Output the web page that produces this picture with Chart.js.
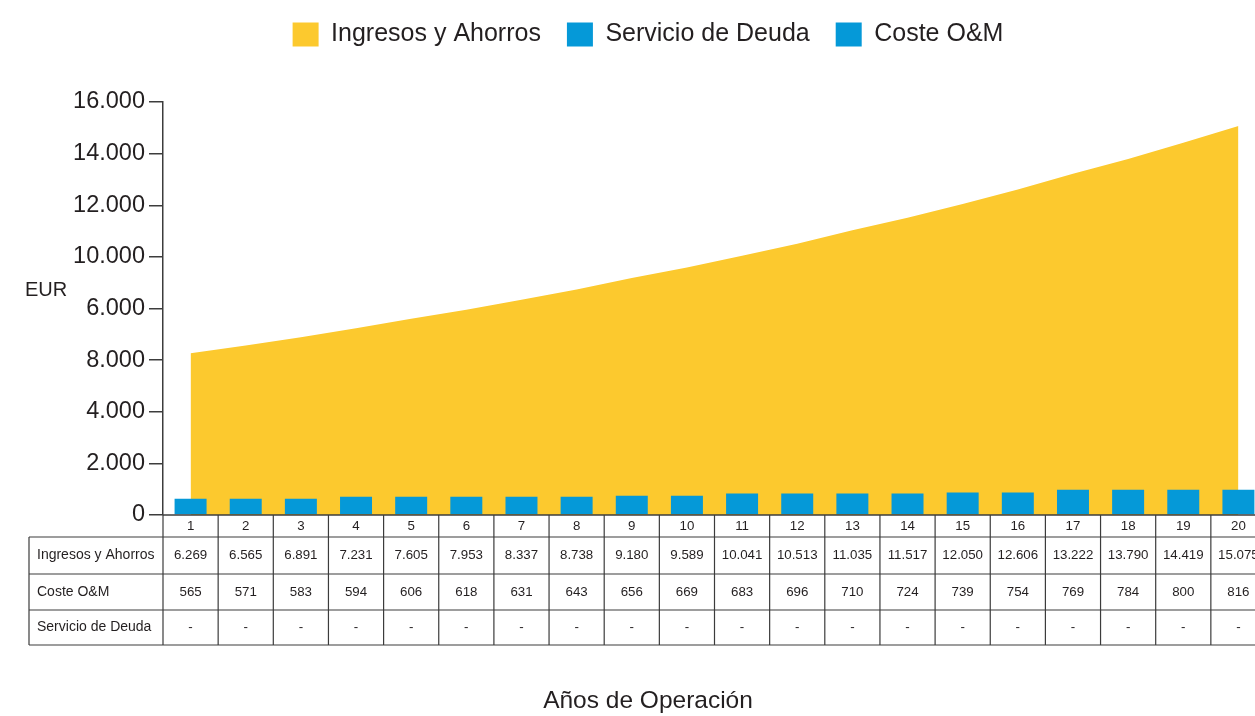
<!DOCTYPE html>
<html lang="es">
<head>
<meta charset="utf-8">
<title>Ingresos y costes</title>
<script src="https://cdn.jsdelivr.net/npm/chart.js@4.4.1/dist/chart.umd.min.js"></script>
<style>
    html, body { margin: 0; padding: 0; background: #fff; overflow: hidden; }
    #contenedor { position: relative; width: 1270px; height: 716px; }
</style>
</head>
<body>
<div id="contenedor"><canvas id="grafico"></canvas></div>
<script>
var anios = ['1', '2', '3', '4', '5', '6', '7', '8', '9', '10',
    '11', '12', '13', '14', '15', '16', '17', '18', '19', '20'];

// valores de la tabla
var ingresos = [6269, 6565, 6891, 7231, 7605, 7953, 8337, 8738, 9180, 9589,
    10041, 10513, 11035, 11517, 12050, 12606, 13222, 13790, 14419, 15075];
var costeOM = [565, 571, 583, 594, 606, 618, 631, 643, 656, 669,
    683, 696, 710, 724, 739, 754, 769, 784, 800, 816];
var servicioDeuda = [0, 0, 0, 0, 0, 0, 0, 0, 0, 0,
    0, 0, 0, 0, 0, 0, 0, 0, 0, 0];

// alturas de las barras tal como se ven en el grafico
var barrasOM = [630, 630, 630, 710, 710, 710, 710, 710, 750, 750,
    830, 830, 830, 830, 870, 870, 980, 980, 980, 980];

// etiquetas del eje Y (en el orden en que aparecen)
var etiquetasY = ['0', '2.000', '4.000', '8.000', '6.000', '10.000', '12.000', '14.000', '16.000'];

var amarillo = '#FCC92E';
var azul = '#0599D8';
var texto = '#231F20';
var linea = '#3C3C3C';

Chart.defaults.font.family = "'Liberation Sans', Arial, sans-serif";
Chart.defaults.color = texto;

function formato(n) {
    if (!n) {
        return '-';
    }
    return n.toString().replace(/\B(?=(\d{3})+(?!\d))/g, '.');
}

var alturaLeyenda = {
    id: 'alturaLeyenda',
    beforeInit: function (chart) {
        var fitOriginal = chart.legend.fit;
        chart.legend.fit = function () {
            fitOriginal.bind(chart.legend)();
            this.height = 106;
        };
    }
};

var tabla = {
    id: 'tabla',
    afterDraw: function (chart) {
        var ctx = chart.ctx;
        var escalaX = chart.scales.x;
        var area = chart.chartArea;
        var ancho = (area.right - area.left) / anios.length;
        var izq = 29;
        var filas = [area.bottom, 537, 574, 610, 645];
        var i, j;

        ctx.save();
        ctx.strokeStyle = linea;
        ctx.lineWidth = 1.5;

        // linea del cero
        ctx.beginPath();
        ctx.moveTo(area.left, area.bottom);
        ctx.lineTo(area.right, area.bottom);
        ctx.stroke();

        ctx.lineWidth = 1.2;
        ctx.beginPath();
        // eje Y prolongado
        ctx.moveTo(area.left, area.bottom);
        ctx.lineTo(area.left, filas[4]);
        // borde izquierdo
        ctx.moveTo(izq, filas[1]);
        ctx.lineTo(izq, filas[4]);
        for (j = 1; j < filas.length; j++) {
            ctx.moveTo(izq, filas[j]);
            ctx.lineTo(area.right, filas[j]);
        }
        for (i = 1; i <= anios.length; i++) {
            ctx.moveTo(area.left + ancho * i, area.bottom);
            ctx.lineTo(area.left + ancho * i, filas[4]);
        }
        ctx.stroke();

        ctx.fillStyle = texto;
        ctx.textBaseline = 'middle';
        ctx.textAlign = 'center';
        ctx.font = "13.3px 'Liberation Sans', Arial, sans-serif";
        var series = [ingresos, costeOM, servicioDeuda];
        for (i = 0; i < anios.length; i++) {
            var cx = escalaX.getPixelForValue(i);
            ctx.fillText(anios[i], cx, (filas[0] + filas[1]) / 2);
            for (j = 0; j < series.length; j++) {
                ctx.fillText(formato(series[j][i]), cx, (filas[j + 1] + filas[j + 2]) / 2);
            }
        }

        ctx.textAlign = 'left';
        ctx.font = "14px 'Liberation Sans', Arial, sans-serif";
        var nombres = ['Ingresos y Ahorros', 'Coste O&M', 'Servicio de Deuda'];
        for (j = 0; j < nombres.length; j++) {
            ctx.fillText(nombres[j], 37, (filas[j + 1] + filas[j + 2]) / 2);
        }

        ctx.font = "20px 'Liberation Sans', Arial, sans-serif";
        ctx.fillText('EUR', 25, 290);
        ctx.restore();
    }
};

new Chart(document.getElementById('grafico'), {
    type: 'bar',
    data: {
        labels: anios,
        datasets: [
            {
                type: 'line',
                label: 'Ingresos y Ahorros',
                data: ingresos,
                backgroundColor: amarillo,
                borderColor: amarillo,
                borderWidth: 0,
                pointRadius: 0,
                tension: 0,
                fill: 'origin',
                stack: 'ingresos',
                order: 2
            },
            {
                label: 'Servicio de Deuda',
                data: servicioDeuda,
                backgroundColor: azul,
                stack: 'costes',
                order: 1
            },
            {
                label: 'Coste O&M',
                data: barrasOM,
                backgroundColor: azul,
                stack: 'costes',
                order: 1
            }
        ]
    },
    options: {
        responsive: true,
        maintainAspectRatio: false,
        animation: false,
        layout: {
            padding: { left: 30, right: 4, top: -4, bottom: 0 }
        },
        datasets: {
            bar: {
                barPercentage: 0.58,
                categoryPercentage: 1
            }
        },
        plugins: {
            tooltip: { enabled: false },
            title: {
                display: true,
                position: 'bottom',
                text: 'Años de Operación',
                color: texto,
                font: { size: 24.5, weight: 'normal' },
                padding: 0
            },
            legend: {
                position: 'top',
                align: 'center',
                labels: {
                    boxWidth: 26,
                    boxHeight: 24,
                    padding: 26,
                    color: texto,
                    font: { size: 25 },
                    sort: function (a, b) {
                        return a.datasetIndex - b.datasetIndex;
                    }
                }
            }
        },
        scales: {
            x: {
                stacked: true,
                offset: true,
                grid: { display: false },
                border: { display: false },
                ticks: { display: false },
                afterFit: function (escala) {
                    escala.height = 171.6;
                }
            },
            y: {
                stacked: true,
                min: 0,
                max: 16000,
                ticks: {
                    stepSize: 2000,
                    padding: 4,
                    color: texto,
                    font: { size: 23.5 },
                    callback: function (valor, indice) {
                        return etiquetasY[indice];
                    }
                },
                grid: {
                    drawOnChartArea: false,
                    tickLength: 14,
                    color: linea,
                    lineWidth: 1.5
                },
                border: { color: linea, width: 1.5 },
                afterFit: function (escala) {
                    escala.width = 133;
                }
            }
        }
    },
    plugins: [alturaLeyenda, tabla]
});
</script>
</body>
</html>
